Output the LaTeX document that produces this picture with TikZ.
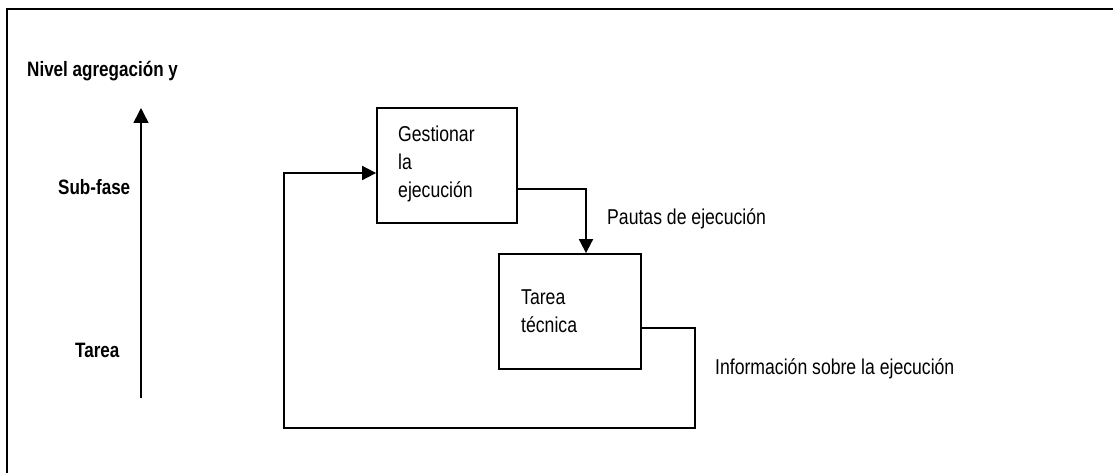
\documentclass[tikz,border=0pt]{standalone}
\usepackage{fontspec}
\setmainfont{Liberation Sans}[FakeStretch=0.82]
\usetikzlibrary{arrows.meta}
\begin{document}
\begin{tikzpicture}[x=1pt,y=-1pt,
  box/.style={draw,line width=1.8pt,rectangle,inner sep=0pt},
  txt/.style={anchor=base west,inner sep=0pt,font=\fontsize{21.5}{26}\selectfont},
  lbl/.style={anchor=base west,inner sep=0pt,font=\fontsize{20.8}{25}\selectfont\bfseries},
  flow/.style={line width=1.8pt,-{Triangle[length=14pt,width=14pt]}},
  link/.style={line width=1.8pt}]
\useasboundingbox (0,0) rectangle (1113,473);
\clip (0,0) rectangle (1113,473);
% outer frame
\draw[line width=2pt] (7,9.5) rectangle (1130,490);

% level axis
\coordinate (axb) at (141,398);
\coordinate (axt) at (141,108);
\draw[line width=1.5pt,-{Triangle[length=15pt,width=15pt]}] (axb) -- (axt);
\node[lbl] (nivel) at (27,77) {Nivel agregación y};
\node[lbl] (subfase) at (58,195) {Sub-fase};
\node[lbl] (tarea) at (75,357) {Tarea};

% boxes
\node[box,minimum width=140pt,minimum height=115pt] (g) at (447,165.5) {};
\node[txt] (g1) at (398,142) {Gestionar};
\node[txt] (g2) at (398,170) {la};
\node[txt] (g3) at (398,197.5) {ejecución};

\node[box,minimum width=142pt,minimum height=115pt] (t) at (570,311.5) {};
\node[txt] (t1) at (521,304) {Tarea};
\node[txt] (t2) at (521,332) {técnica};

% guidelines to the task
\coordinate (pk) at (586,189);
\draw[flow] (g.east |- pk) -| (t.north -| pk);
\node[txt] (pautas) at (607,225) {Pautas de ejecución};

% feedback loop
\coordinate (fb1) at (695,328);
\coordinate (fb2) at (695,428);
\coordinate (fb3) at (284,428);
\coordinate (fb4) at (284,173);
\draw[flow] (t.east |- fb1) -- (fb1) -- (fb2) -- (fb3) -- (fb4) -- (g.west |- fb4);
\node[txt] (info) at (715,374) {Información sobre la ejecución};
\end{tikzpicture}
\end{document}
